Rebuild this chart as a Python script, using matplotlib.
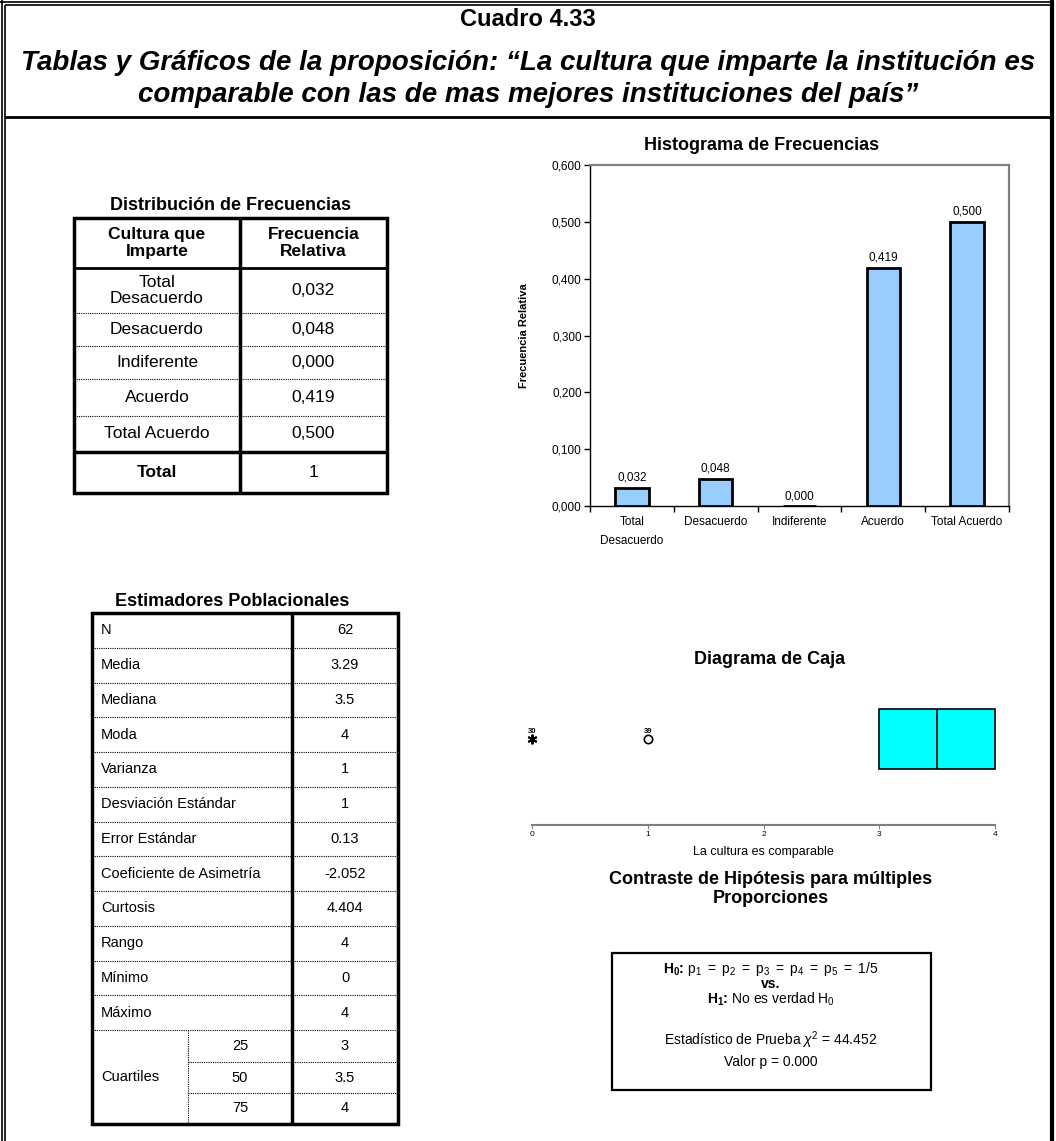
import matplotlib.pyplot as plt
import numpy as np
from matplotlib.patches import Rectangle

plt.rcParams['font.family'] = ['Liberation Sans', 'DejaVu Sans']
plt.rcParams['mathtext.fontset'] = 'custom'
plt.rcParams['mathtext.rm'] = 'Liberation Sans'
plt.rcParams['mathtext.it'] = 'Liberation Sans:italic'
plt.rcParams['mathtext.bf'] = 'Liberation Sans:bold'

# ---- datos ----
categorias = ['Total\nDesacuerdo', 'Desacuerdo', 'Indiferente', 'Acuerdo', 'Total Acuerdo']
frecuencias = [0.032, 0.048, 0.000, 0.419, 0.500]
codigos = [0, 1, 2, 3, 4]
n_casos = 62
ticks_frec = [0.0, 0.1, 0.2, 0.3, 0.4, 0.5, 0.6]

estimadores = ['N', 'Media', 'Mediana', 'Moda', 'Varianza', 'Desviación Estándar',
               'Error Estándar', 'Coeficiente de Asimetría', 'Curtosis', 'Rango',
               'Mínimo', 'Máximo']
valores_est = ['62', '3.29', '3.5', '4', '1', '1', '0.13', '-2.052', '4.404', '4', '0', '4']
percentiles = ['25', '50', '75']
cuartiles = ['3', '3.5', '4']
casos_atipicos = ['30', '39']

estadistico_chi = 44.452
valor_p = 0.000

W, H = 1056, 1141


def coma(v):
    return f'{v:.3f}'.replace('.', ',')


fig = plt.figure(figsize=(W / 100, H / 100), dpi=100)
fig.patch.set_facecolor('white')

# capa de fondo en pixeles (y hacia abajo) para marco, tablas y textos
bg = fig.add_axes([0, 0, 1, 1])
bg.set_xlim(0, W)
bg.set_ylim(H, 0)
bg.axis('off')


def px_axes(left, top, right, bottom):
    return fig.add_axes([left / W, 1 - bottom / H, (right - left) / W, (bottom - top) / H])


def linea(x, y, lw=1.0, ls='-'):
    bg.plot(x, y, color='black', lw=lw, ls=ls, solid_capstyle='butt')


DOT = (0, (1, 1))

# ============================================
# Marco y encabezado
# ============================================
linea([1.5, 1.5], [0, H], 1.2)
linea([5, 5], [5, H], 1.2)
linea([0, 1054], [1.5, 1.5], 1.2)
linea([5, 1051], [5, 5], 1.2)
linea([1052, 1052], [0, H], 3)
linea([5, 1052], [117, 117], 2)

bg.text(528, 19, 'Cuadro 4.33', ha='center', va='center', fontsize=17, fontweight='bold')
bg.text(528, 63, 'Tablas y Gráficos de la proposición: \u201cLa cultura que imparte la institución es',
        ha='center', va='center', fontsize=20, fontweight='bold', style='italic')
bg.text(528, 95, 'comparable con las de mas mejores instituciones del país\u201d',
        ha='center', va='center', fontsize=20, fontweight='bold', style='italic')

# ============================================
# Tabla 1: Distribución de Frecuencias
# ============================================
t1_x = [74, 240, 387]
t1_y = [218, 268, 313, 346, 379, 416, 452, 493]
bg.text(230, 205, 'Distribución de Frecuencias', ha='center', va='center', fontsize=13, fontweight='bold')
cx1 = (t1_x[0] + t1_x[1]) / 2
cx2 = (t1_x[1] + t1_x[2]) / 2
yh = (t1_y[0] + t1_y[1]) / 2
bg.text(cx1, yh, 'Cultura que\nImparte', ha='center', va='center', fontsize=12.5,
        fontweight='bold', linespacing=1.15)
bg.text(cx2, yh, 'Frecuencia\nRelativa', ha='center', va='center', fontsize=12.5,
        fontweight='bold', linespacing=1.15)
for i, (cat, f) in enumerate(zip(categorias, frecuencias)):
    yc = (t1_y[i + 1] + t1_y[i + 2]) / 2
    bg.text(cx1, yc, cat, ha='center', va='center', fontsize=12.5, linespacing=1.1)
    bg.text(cx2, yc, coma(f), ha='center', va='center', fontsize=12.5)
yt = (t1_y[-2] + t1_y[-1]) / 2
bg.text(cx1, yt, 'Total', ha='center', va='center', fontsize=12.5, fontweight='bold')
bg.text(cx2, yt, f'{round(sum(frecuencias)):d}', ha='center', va='center', fontsize=12.5)

bg.add_patch(Rectangle((t1_x[0], t1_y[0]), t1_x[2] - t1_x[0], t1_y[-1] - t1_y[0],
                       fill=False, lw=2.5, ec='black'))
linea([t1_x[1], t1_x[1]], [t1_y[0], t1_y[-1]], 2.5)
linea([t1_x[0], t1_x[2]], [t1_y[1], t1_y[1]], 2)
for yy in t1_y[2:6]:
    linea([t1_x[0], t1_x[2]], [yy, yy], 0.8, DOT)
linea([t1_x[0], t1_x[2]], [t1_y[6], t1_y[6]], 2.5)

# ============================================
# Tabla 2: Estimadores Poblacionales
# ============================================
t2_x = [92, 188, 292, 398]
t2_y = [613 + 34.75 * i for i in range(13)] + [1062, 1093, 1124]
bg.text(232, 602, 'Estimadores Poblacionales', ha='center', va='center', fontsize=13, fontweight='bold')
vx = (t2_x[2] + t2_x[3]) / 2
for i, (lab, val) in enumerate(zip(estimadores, valores_est)):
    yc = (t2_y[i] + t2_y[i + 1]) / 2
    bg.text(101, yc, lab, ha='left', va='center', fontsize=10.5)
    bg.text(vx, yc, val, ha='center', va='center', fontsize=10.5)
q0 = len(estimadores)
bg.text(101, (t2_y[q0] + t2_y[-1]) / 2, 'Cuartiles', ha='left', va='center', fontsize=10.5)
for j, (pc, qv) in enumerate(zip(percentiles, cuartiles)):
    yc = (t2_y[q0 + j] + t2_y[q0 + j + 1]) / 2
    bg.text((t2_x[1] + t2_x[2]) / 2, yc, pc, ha='center', va='center', fontsize=10.5)
    bg.text(vx, yc, qv, ha='center', va='center', fontsize=10.5)

bg.add_patch(Rectangle((t2_x[0], t2_y[0]), t2_x[3] - t2_x[0], t2_y[-1] - t2_y[0],
                       fill=False, lw=2.5, ec='black'))
linea([t2_x[2], t2_x[2]], [t2_y[0], t2_y[-1]], 2.5)
for yy in t2_y[1:q0 + 1]:
    linea([t2_x[0], t2_x[3]], [yy, yy], 0.8, DOT)
for yy in t2_y[q0 + 1:-1]:
    linea([t2_x[1], t2_x[3]], [yy, yy], 0.8, DOT)
linea([t2_x[1], t2_x[1]], [t2_y[q0], t2_y[-1]], 0.8, DOT)

# ============================================
# Histograma de Frecuencias
# ============================================
bg.text(762, 146, 'Histograma de Frecuencias', ha='center', va='center', fontsize=13, fontweight='bold')
ax = px_axes(590, 165, 1009, 506)
x = np.arange(len(frecuencias))
ax.bar(x, frecuencias, width=0.4, color='#99CCFF', edgecolor='black', linewidth=2, zorder=3)
for xi, v in zip(x, frecuencias):
    ax.text(xi, v + 0.007, coma(v), ha='center', va='bottom', fontsize=8.5)
ax.set_xlim(-0.5, len(frecuencias) - 0.5)
ax.set_ylim(ticks_frec[0], ticks_frec[-1])
ax.set_yticks(ticks_frec)
ax.set_yticklabels([coma(t) for t in ticks_frec])
ax.set_xticks(x)
ax.set_xticklabels(categorias, fontsize=8.5)
for t in ax.get_xticklabels():
    t.set_linespacing(1.8)
ax.set_xticks(np.arange(-0.5, len(frecuencias)), minor=True)
ax.tick_params(axis='x', which='major', length=0, pad=7)
ax.tick_params(axis='x', which='minor', length=4, width=1)
ax.tick_params(axis='y', length=4, width=1, labelsize=8.5, pad=2)
for s in ['top', 'right']:
    ax.spines[s].set_color('#808080')
    ax.spines[s].set_linewidth(1.6)
for s in ['left', 'bottom']:
    ax.spines[s].set_color('black')
    ax.spines[s].set_linewidth(1)
ax.set_ylabel('Frecuencia Relativa', fontsize=8, fontweight='bold')
ax.yaxis.set_label_coords(-0.146, 0.5)

# ============================================
# Diagrama de Caja
# ============================================
bg.text(770, 659, 'Diagrama de Caja', ha='center', va='center', fontsize=13, fontweight='bold')
conteos = [int(round(f * n_casos)) for f in frecuencias]
datos = np.repeat(codigos, conteos)
bx = px_axes(520.4, 690, 1006.6, 825)
bp = bx.boxplot(datos, orientation='horizontal', positions=[0.637], widths=0.444,
                patch_artist=True, showfliers=False, showcaps=False, whis=1.5,
                boxprops=dict(facecolor='#00FFFF', edgecolor='black', linewidth=1.2),
                medianprops=dict(color='black', linewidth=1.2),
                whiskerprops=dict(color='black', linewidth=1))
q1, q3 = np.percentile(datos, [25, 75])
iqr = q3 - q1
atipicos = [v for v in np.unique(datos) if v < q1 - 1.5 * iqr or v > q3 + 1.5 * iqr]
for v, caso in zip(atipicos, casos_atipicos):
    extremo = v <= q1 - 3 * iqr or v >= q3 + 3 * iqr
    if extremo:
        bx.plot(v, 0.637, marker=(6, 2, 0), ms=7, mew=1.4, color='black', clip_on=False)
    else:
        bx.plot(v, 0.637, marker='o', ms=6, mfc='none', mec='black', mew=1.2, clip_on=False)
    bx.text(v, 0.665, caso, ha='center', va='bottom', fontsize=5.5, fontweight='bold')
bx.set_xlim(codigos[0] - 0.1, codigos[-1] + 0.1)
bx.set_ylim(0, 1)
bx.set_xticks(codigos)
bx.set_yticks([])
for s in ['top', 'right', 'left']:
    bx.spines[s].set_visible(False)
bx.spines['bottom'].set_bounds(codigos[0], codigos[-1])
bx.spines['bottom'].set_color('#808080')
bx.spines['bottom'].set_linewidth(1.5)
bx.tick_params(axis='x', length=3, color='#808080', labelsize=6, pad=1)
bx.patch.set_alpha(0)
bx.set_xlabel('La cultura es comparable', fontsize=9, labelpad=6)

# ============================================
# Contraste de Hipótesis
# ============================================
bg.text(771, 889, 'Contraste de Hipótesis para múltiples\nProporciones', ha='center', va='center',
        fontsize=13, fontweight='bold', linespacing=1.1)
bg.add_patch(Rectangle((612, 953), 319, 137, fill=False, lw=1.6, ec='black'))
bg.text(771, 969, r'H$_\mathbf{0}$: $\mathrm{p_1\ =\ p_2\ =\ p_3\ =\ p_4\ =\ p_5\ =\ 1/5}$',
        ha='center', va='center', fontsize=10, fontweight='bold')
bg.text(771, 984, 'vs.', ha='center', va='center', fontsize=10, fontweight='bold')
bg.text(771, 999, r'H$_\mathbf{1}$: $\mathrm{No\ es\ verdad\ H_0}$', ha='center', va='center',
        fontsize=10, fontweight='bold')
bg.text(771, 1040, rf'Estadístico de Prueba $\chi^2$ = {estadistico_chi:.3f}',
        ha='center', va='center', fontsize=10)
bg.text(771, 1062, f'Valor p = {valor_p:.3f}', ha='center', va='center', fontsize=10)

plt.savefig('out.png', dpi=100, facecolor='white')
plt.close()
print("Created: out.png")
